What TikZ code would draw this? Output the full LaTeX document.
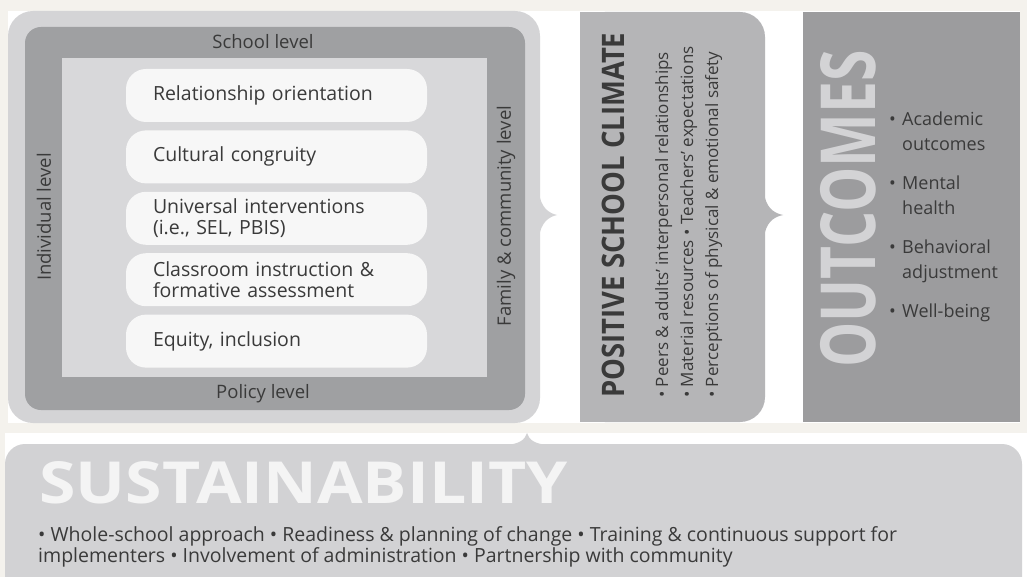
\documentclass[tikz,border=0pt]{standalone}
\usepackage{fontspec}
\setmainfont{Open Sans}
\usetikzlibrary{positioning}

\definecolor{pagebg}{HTML}{F4F2ED}
\definecolor{panellight}{HTML}{D4D4D6}
\definecolor{framedark}{HTML}{9FA0A2}
\definecolor{innerlight}{HTML}{D8D8DA}
\definecolor{boxwhite}{HTML}{F7F7F7}
\definecolor{climategray}{HTML}{B5B5B7}
\definecolor{outcomegray}{HTML}{9C9C9E}
\definecolor{outcometext}{HTML}{D3D3D5}
\definecolor{sustaingray}{HTML}{D2D2D4}
\definecolor{sustaintext}{HTML}{F4F4F4}
\definecolor{inkgray}{HTML}{3A3A3A}

\tikzset{
    levellabel/.style={text=inkgray, font=\fontsize{18.5}{20}\selectfont},
    factor/.style={
        fill=boxwhite, rounded corners=20pt,
        minimum width=301pt, minimum height=53pt,
        text width=247pt, align=left, inner xsep=0pt,
        text=inkgray, font=\fontsize{19.5}{21}\selectfont,
    },
    outitem/.style={
        anchor=north west, align=left, inner sep=0pt,
        text=inkgray, font=\fontsize{18}{25}\selectfont,
    },
}
\newcommand{\bulletline}[2]{\makebox[13pt][l]{•}#1\\\hspace*{13pt}#2}

\begin{document}
\begin{tikzpicture}[x=1pt, y=-1pt, node distance=8pt and 0pt]
    \useasboundingbox (0,0) rectangle (1027,577);
    \fill[pagebg] (0,0) rectangle (1027,577);
    \fill[white] (8,11) rectangle (1020,423);
    \fill[white] (5,433) rectangle (1027,577);

    % levels around the school
    \fill[panellight, rounded corners=25pt] (8,11) rectangle (540,423);
    \fill[panellight] (539,193) .. controls (541,207) and (548,213) .. (557,215)
        .. controls (548,217) and (541,223) .. (539,237) -- cycle;
    \fill[framedark, rounded corners=16pt] (25,27) rectangle (525,410);
    \fill[innerlight] (62,58) rectangle (487,377);

    \node[levellabel] (school) at (263,42) {School level};
    \node[levellabel] (policy) at (263,394) {Policy level};
    \node[levellabel, rotate=90] (indiv) at (44,217) {Individual level};
    \node[levellabel, rotate=90] (family) at (506,216) {Family \& community level};

    \node[factor] (f1) at (276.5,95.5) {Relationship orientation};
    \node[factor, below=of f1] (f2) {Cultural congruity};
    \node[factor, below=of f2] (f3) {Universal interventions\\(i.e., SEL, PBIS)};
    \node[factor, below=of f3] (f4) {Classroom instruction \&\\formative assessment};
    \node[factor, below=of f4] (f5) {Equity, inclusion};

    % climate
    \fill[climategray, rounded corners=25pt] (580,12) rectangle (765,422);
    \fill[climategray] (580,12) rectangle (640,422);
    \fill[climategray] (764,193) .. controls (766,207) and (773,213) .. (783,215)
        .. controls (773,217) and (766,223) .. (764,237) -- cycle;
    \node[rotate=90, text=inkgray, font=\bfseries\fontsize{31}{31}\selectfont] (climate)
        at (613,215) {\scalebox{0.885}[1]{POSITIVE SCHOOL CLIMATE}};
    \node[rotate=90, anchor=north west, align=left, inner sep=0pt, text=inkgray,
        font=\fontsize{17}{25}\selectfont] (climitems) at (655,398)
        {• Peers \& adults’ interpersonal relationships\\
         • Material resources • Teachers’ expectations\\
         • Perceptions of physical \& emotional safety};

    % outcomes
    \fill[outcomegray] (803,12) rectangle (1020,422);
    \node[rotate=90, text=outcometext, font=\bfseries\fontsize{76}{76}\selectfont] (outcomes)
        at (848,209) {\scalebox{0.75}[1]{OUTCOMES}};
    \node[outitem] (o1) at (889,112) {\bulletline{Academic}{outcomes}};
    \node[outitem, below=24pt of o1.south west, anchor=north west] (o2) {\bulletline{Mental}{health}};
    \node[outitem, below=25pt of o2.south west, anchor=north west] (o3) {\bulletline{Behavioral}{adjustment}};
    \node[outitem, below=21pt of o3.south west, anchor=north west] (o4) {\makebox[13pt][l]{•}Well-being};

    % sustainability
    \fill[sustaingray, rounded corners=20pt] (5,444) rectangle (1022,610);
    \fill[sustaingray] (506,445) .. controls (519,444) and (525,440) .. (527,433)
        .. controls (529,440) and (535,444) .. (548,445) -- cycle;
    \node[anchor=base west, text=sustaintext, font=\bfseries\fontsize{58}{58}\selectfont] (sustain)
        at (36,503) {\scalebox{1.14}[1]{SUSTAINABILITY}};
    \node[anchor=base west, align=left, inner sep=0pt, text=inkgray,
        font=\fontsize{19.5}{21}\selectfont] (sustitems) at (38,562)
        {• Whole-school approach • Readiness \& planning of change • Training \& continuous support for\\
         implementers • Involvement of administration • Partnership with community};
\end{tikzpicture}
\end{document}
